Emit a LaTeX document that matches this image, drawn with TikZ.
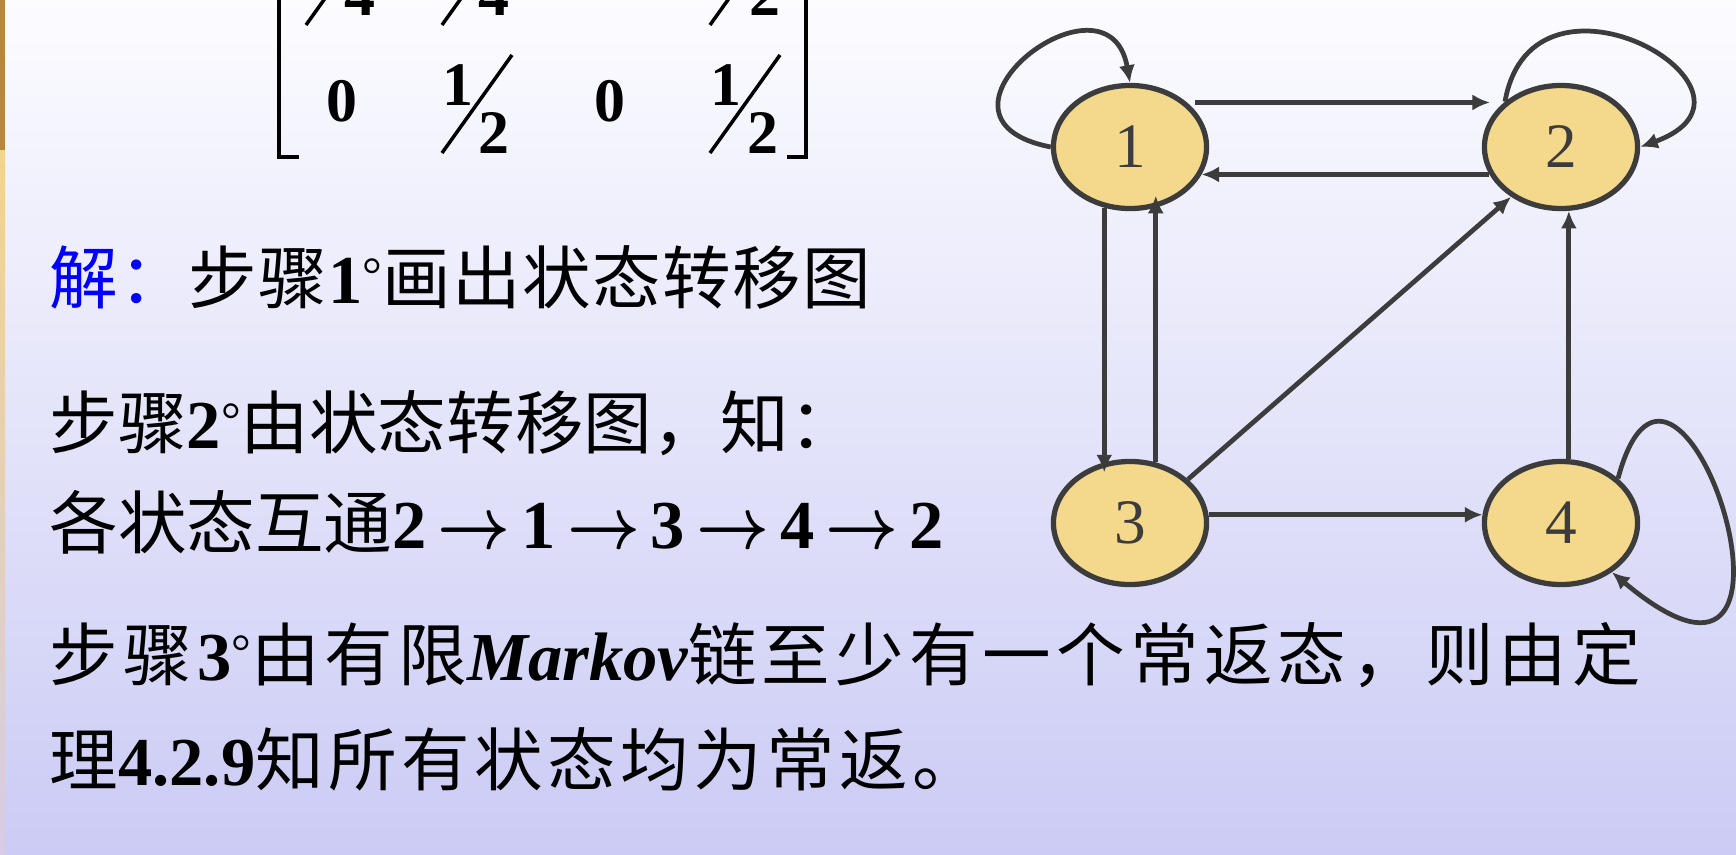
\documentclass[tikz,border=0pt]{standalone}
\usepackage{fontspec}
\usepackage{graphicx}
\setmainfont{Liberation Serif}
\newfontfamily\cjk{Noto Sans CJK SC}
\usetikzlibrary{shapes.geometric,arrows.meta}
\definecolor{bgtop}{HTML}{FCFCFF}
\definecolor{bgmid}{HTML}{EDEDFB}
\definecolor{bgbot}{HTML}{CBCBF5}
\definecolor{statefill}{HTML}{F4D88C}
\definecolor{ink}{HTML}{3C3C3C}
\definecolor{stripwood}{HTML}{B8873E}
\definecolor{stripgold}{HTML}{F2D48A}
\definecolor{striplow}{HTML}{D6CCE6}
\newcommand\zhsize{\fontsize{19.5}{19.5}\selectfont}
\newcommand\spread[1]{\addfontfeature{LetterSpace=#1}}
\newcommand\bnum[1]{{\rmfamily\bfseries #1}}
\newcommand\stepno[1]{{\rmfamily\textbf{#1}\raisebox{0.35ex}{\fontsize{14}{14}\selectfont °}}}
\newcommand\goto{\hspace{0.16em}\scalebox{0.87}[1]{\boldmath$\rightarrow$}\hspace{0.16em}}
\tikzset{
  state/.style={ellipse, draw=ink, fill=statefill, line width=1.5pt, minimum width=1.53cm,
    minimum height=1.23cm, inner sep=0pt, text=ink, font=\fontsize{18}{18}\selectfont},
  trans/.style={draw=ink, line width=1.35pt, -{Latex[length=5pt,width=4.6pt]}},
  textline/.style={anchor=base west, inner sep=0pt, font=\cjk\zhsize},
  num/.style={inner sep=0pt, font=\bfseries\fontsize{17.6}{17.6}\selectfont},
  rule/.style={line width=1pt}
}

\begin{document}
\begin{tikzpicture}[x=0.01cm,y=0.01cm]
  \useasboundingbox (0,0) rectangle (1736,-854);
  \shade[top color=bgtop, middle color=bgmid, bottom color=bgbot] (0,0) rectangle (1736,-854);
  \fill[stripwood] (0,0) rectangle (5,-150);
  \shade[top color=stripgold, bottom color=striplow] (0,-150) rectangle (5,-854);

  % matrix (top rows cut off)
  \draw[rule] (299,-157) -- (279,-157) -- (279,10);
  \draw[rule] (787,-157) -- (806,-157) -- (806,10);
  \node[num] (a14) at (360,5) {4};
  \node[num] (b14) at (494,5) {4};
  \node[num] (d12) at (765,5) {2};
  \draw[rule] (306,-25) -- (376,73);
  \draw[rule] (442,-25) -- (512,73);
  \draw[rule] (710,-25) -- (780,73);
  \node[num] (a2) at (342,-101) {0};
  \node[num] (b2n) at (458,-85) {1};
  \node[num] (b2d) at (494,-133) {2};
  \draw[rule] (442,-153) -- (512,-55);
  \node[num] (c2) at (610,-101) {0};
  \node[num] (d2n) at (726,-85) {1};
  \node[num] (d2d) at (763,-133) {2};
  \draw[rule] (710,-153) -- (780,-55);

  % text
  \node[textline, font=\cjk\zhsize\spread{2.2}] (sol) at (49,-303)
    {\textcolor{blue}{解：}步骤\stepno{1}画出状态转移图};
  \node[textline] (step2) at (49,-448) {步骤\stepno{2}由状态转移图，知：};
  \node[textline] (chain) at (49,-548)
    {各状态互通\bnum{2\goto 1\goto 3\goto 4\goto 2}};
  \node[textline, font=\cjk\zhsize\spread{7.5}] (step3) at (49,-680)
    {步骤\stepno{3}由有限{\rmfamily\bfseries\itshape Markov}链至少有一个常返态，则由定};
  \node[textline, font=\cjk\zhsize\spread{6.5}] (step3b) at (49,-785)
    {理\bnum{4.2.9}知所有状态均为常返。};

  % states
  \node[state] (s1) at (1130,-147) {1};
  \node[state] (s2) at (1561,-147) {2};
  \node[state] (s3) at (1130,-523) {3};
  \node[state] (s4) at (1561,-523) {4};

  \draw[trans, shorten <=0.08cm, shorten >=0.14cm] (s1.38) -- (s2.142);
  \draw[trans] (s2.201) -- (s1.339);
  \draw[trans, shorten >=-0.1cm] (s1.247) -- (s3.113);
  \draw[trans, shorten >=-0.12cm] (s3.67) -- (s1.293);
  \draw[trans] (s3.37) -- (s2.225);
  \draw[trans] (s3.6) -- (s4.174);
  \draw[trans] (s4.83) -- (s2.277);

  \draw[trans] (s1.west) .. controls +(169:150) and +(100:125) .. (s1.north);
  \draw[trans] (s2.141) .. controls +(80:160) and +(20:160) .. (s2.east);
  \draw[trans] (s4.38) .. controls +(75:230) and +(-40:300) .. (s4.316);
\end{tikzpicture}
\end{document}
